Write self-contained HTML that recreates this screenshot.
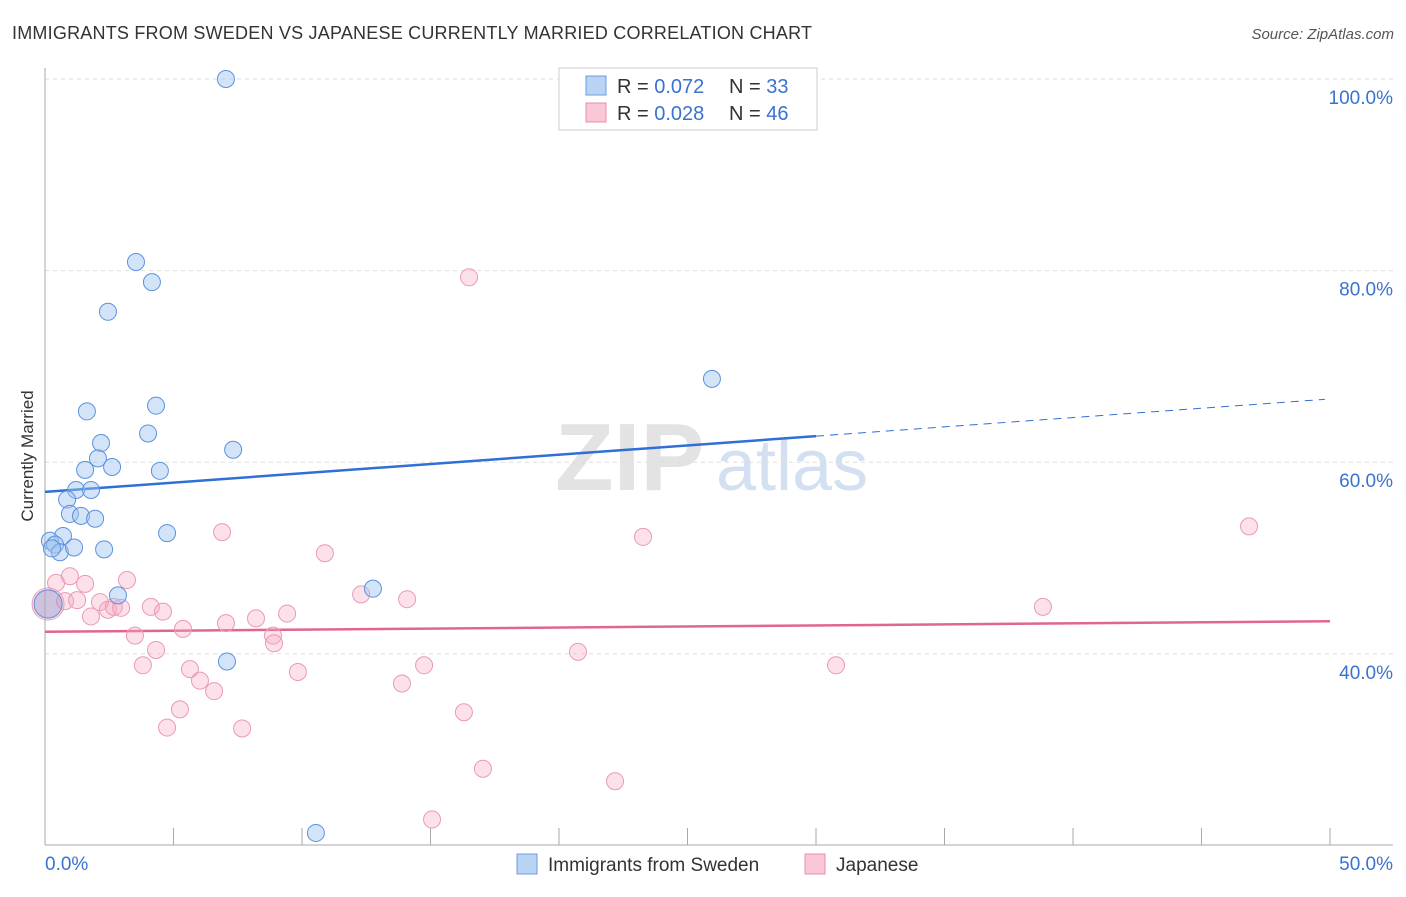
<!DOCTYPE html>
<html><head><meta charset="utf-8"><style>
body{margin:0;background:#fff;font-family:"Liberation Sans",sans-serif}
svg text{font-family:"Liberation Sans",sans-serif}
</style></head><body>
<svg id="chart" width="1406" height="892" xmlns="http://www.w3.org/2000/svg">
<text x="12" y="39" font-size="18" fill="#333" textLength="800">IMMIGRANTS FROM SWEDEN VS JAPANESE CURRENTLY MARRIED CORRELATION CHART</text>
<text x="1394" y="39" font-size="15" fill="#555" font-style="italic" text-anchor="end">Source: ZipAtlas.com</text>
<text transform="translate(33,456) rotate(-90)" font-size="17" fill="#333" text-anchor="middle">Currently Married</text>
<g>
<text x="555" y="490" font-size="96" fill="#ddd" font-family="Liberation Serif" font-weight="bold" opacity="0.8">ZIP</text>
<text x="716" y="490" font-size="72" fill="#c9d9ef" opacity="0.8">atlas</text>
</g>
<g id="grid"></g>
<g id="axes"></g>
<g id="lines"></g>
<g id="points"></g>
<g>
<rect x="559" y="68" width="258" height="62" fill="#fff" stroke="#ccc"/>
<rect x="586" y="76" width="20" height="19" fill="#b9d3f3" stroke="#6a9ee0"/>
<rect x="586" y="103" width="20" height="19" fill="#f9c7d5" stroke="#e88fab"/>
<text x="617" y="93" font-size="20" fill="#333">R = <tspan fill="#3a72d0">0.072</tspan></text>
<text x="729" y="93" font-size="20" fill="#333">N = <tspan fill="#3a72d0">33</tspan></text>
<text x="617" y="120" font-size="20" fill="#333">R = <tspan fill="#3a72d0">0.028</tspan></text>
<text x="729" y="120" font-size="20" fill="#333">N = <tspan fill="#3a72d0">46</tspan></text>
</g>
<g>
<rect x="517" y="854" width="20" height="20" fill="#b9d3f3" stroke="#6a9ee0"/>
<text x="548" y="871" font-size="19" fill="#333">Immigrants from Sweden</text>
<rect x="805" y="854" width="20" height="20" fill="#f9c7d5" stroke="#e88fab"/>
<text x="836" y="871" font-size="19" fill="#333">Japanese</text>
</g>
</svg>
<script>
const yTicks=[100,80,60,40];
const yTickLabels=["100.0%","80.0%","60.0%","40.0%"];
const xTickLabels=["0.0%","50.0%"];
const swedenX=[7.04,3.54,4.16,2.45,1.63,4.32,4.01,2.18,2.06,2.61,1.56,4.47,7.32,1.21,1.79,0.86,0.97,1.40,1.95,4.75,0.70,0.19,0.39,0.58,1.13,2.30,2.84,12.76,25.95,7.08,10.54,0.12,0.27];
const swedenY=[100,80.9,78.8,75.7,65.3,65.9,63.0,62.0,60.4,59.5,59.2,59.1,61.3,57.1,57.1,56.1,54.6,54.4,54.1,52.6,52.3,51.8,51.4,50.6,51.1,50.9,46.1,46.8,68.7,39.2,21.3,45.2,51.0];
const japX=[16.5,6.89,10.89,23.27,46.85,0.43,0.97,1.56,3.19,0.12,0.78,1.25,1.79,2.14,2.45,2.68,2.96,4.12,4.59,5.37,7.04,8.21,9.42,3.50,8.87,8.91,4.32,3.81,5.64,6.03,6.58,9.84,12.30,14.09,14.75,13.89,20.74,30.78,38.83,5.25,4.75,7.67,16.30,17.04,22.18,15.06];
const japY=[79.3,52.7,50.5,52.2,53.3,47.4,48.1,47.3,47.7,45.2,45.5,45.6,43.9,45.4,44.6,44.9,44.8,44.9,44.4,42.6,43.2,43.7,44.2,41.9,41.9,41.1,40.4,38.8,38.4,37.2,36.1,38.1,46.2,45.7,38.8,36.9,40.2,38.8,44.9,34.2,32.3,32.2,33.9,28.0,26.7,22.7];
const swedenTrend=[56.9,66.6]; // y at x=0 and x=50
const japTrend=[42.3,43.4];
const NS="http://www.w3.org/2000/svg";
const X=v=>45+v*25.7, Y=v=>79+(100-v)*9.58;
function mk(t,a,p){const e=document.createElementNS(NS,t);for(const k in a)e.setAttribute(k,a[k]);p.appendChild(e);return e;}
const grid=document.getElementById('grid'),axes=document.getElementById('axes'),lines=document.getElementById('lines'),pts=document.getElementById('points');
yTicks.forEach((v,i)=>{
 const l=mk('line',{x1:45,x2:1393,y1:Y(v),y2:Y(v),stroke:'#ddd','stroke-dasharray':'4,4'},grid);
 
 
 const t=mk('text',{x:1393,y:Y(v)+25,'font-size':19,fill:'#3a72d0','text-anchor':'end'},axes);
 t.textContent=yTickLabels[i];
 
 
});
let a=mk('line',{x1:45,x2:45,y1:68,y2:845,stroke:'#aaa'},axes);


a=mk('line',{x1:45,x2:1393,y1:845,y2:845,stroke:'#aaa'},axes);


for(let i=1;i<=10;i++){const tk=mk('line',{x1:X(i*5),x2:X(i*5),y1:828,y2:845,stroke:'#aaa'},axes);
 
 }
let t=mk('text',{x:45,y:870,'font-size':19,fill:'#3a72d0'},axes);t.textContent=xTickLabels[0];


t=mk('text',{x:1393,y:870,'font-size':19,fill:'#3a72d0','text-anchor':'end'},axes);t.textContent=xTickLabels[1];


const ty=(tr,x)=>tr[0]+(tr[1]-tr[0])*x/50;
let l=mk('line',{x1:X(0),y1:Y(ty(swedenTrend,0)),x2:X(30),y2:Y(ty(swedenTrend,30)),stroke:'#2f6fd6','stroke-width':2.5},lines);


l=mk('line',{x1:X(30),y1:Y(ty(swedenTrend,30)),x2:X(49.8),y2:Y(ty(swedenTrend,49.8)),stroke:'#2f6fd6','stroke-width':1,'stroke-dasharray':'8,6'},lines);


l=mk('line',{x1:X(0),y1:Y(ty(japTrend,0)),x2:X(50),y2:Y(ty(japTrend,50)),stroke:'#e0668e','stroke-width':2.5},lines);


japX.forEach((x,i)=>{const c=mk('circle',{cx:X(x),cy:Y(japY[i]),r:i==9?16:8.5,fill:'rgba(246,170,195,0.35)',stroke:'#ec99b4','stroke-width':1},pts);
 
 });
swedenX.forEach((x,i)=>{const c=mk('circle',{cx:X(x),cy:Y(swedenY[i]),r:i==31?14:8.5,fill:i==31?'rgba(150,160,210,0.45)':'rgba(160,195,240,0.45)',stroke:'#5a92df','stroke-width':1},pts);
 
 });
</script>
</body></html>
